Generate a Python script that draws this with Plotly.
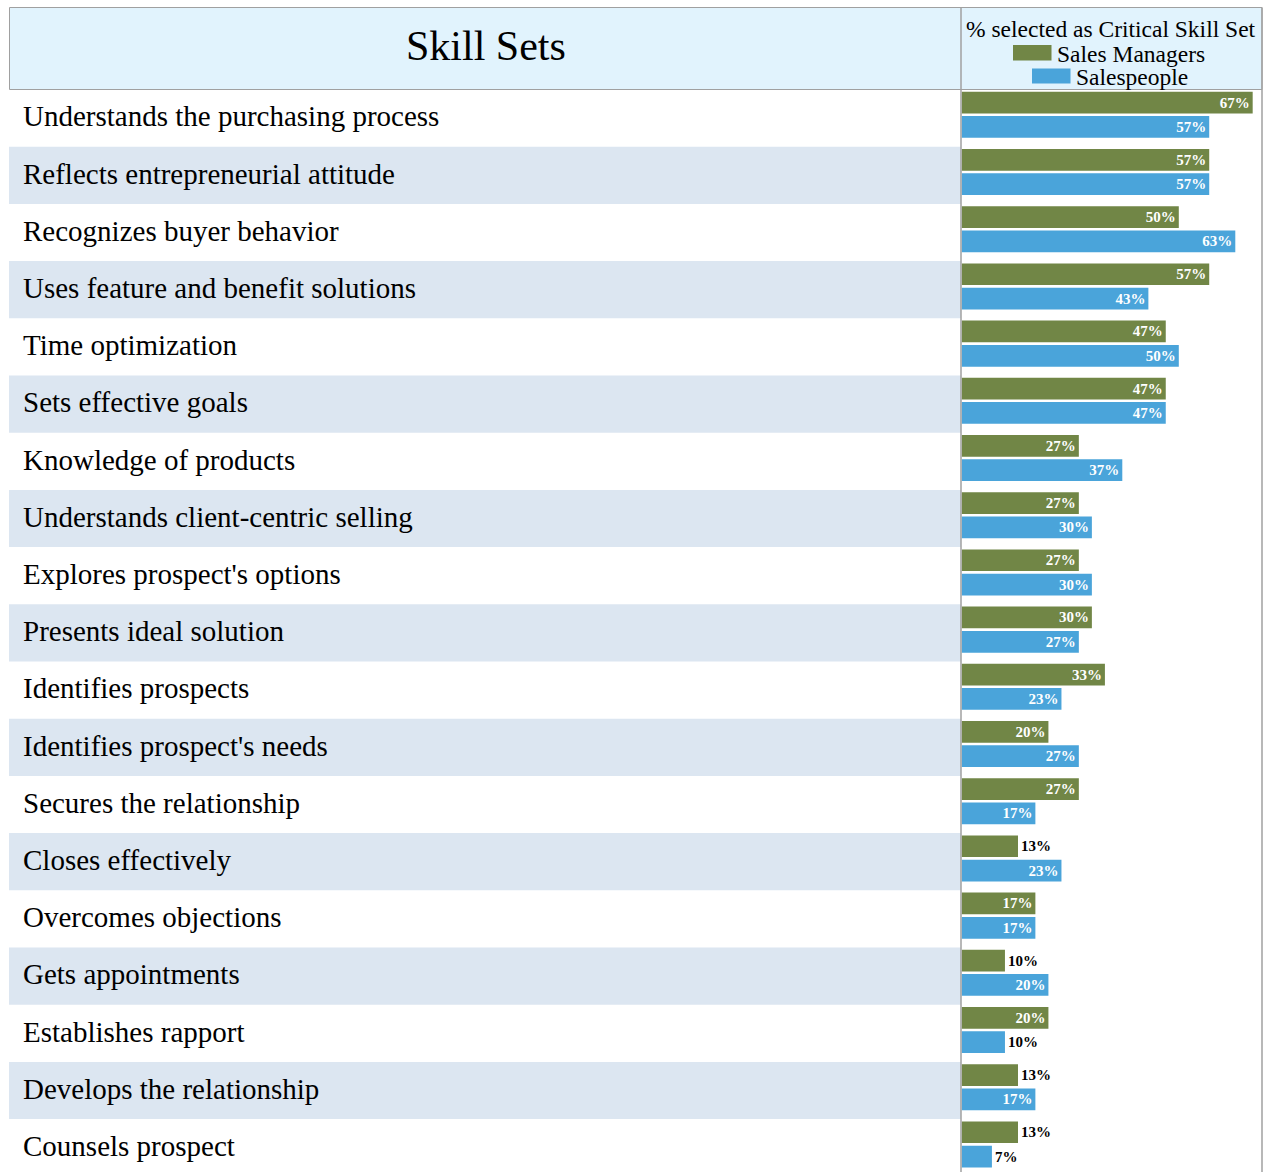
import plotly.graph_objects as go

skills = [
    "Understands the purchasing process",
    "Reflects entrepreneurial attitude",
    "Recognizes buyer behavior",
    "Uses feature and benefit solutions",
    "Time optimization",
    "Sets effective goals",
    "Knowledge of products",
    "Understands client-centric selling",
    "Explores prospect's options",
    "Presents ideal solution",
    "Identifies prospects",
    "Identifies prospect's needs",
    "Secures the relationship",
    "Closes effectively",
    "Overcomes objections",
    "Gets appointments",
    "Establishes rapport",
    "Develops the relationship",
    "Counsels prospect",
]
sales_managers = [67, 57, 50, 57, 47, 47, 27, 27, 27, 30, 33, 20, 27, 13, 17, 10, 20, 13, 13]
salespeople = [57, 57, 63, 43, 50, 47, 37, 30, 30, 27, 23, 27, 17, 23, 17, 20, 10, 17, 7]

W, H = 1270, 1172
FONT = "Liberation Serif, Times New Roman, serif"
ROW_TOP = 89.5      # pixel top of first row
ROW_H = 57.2        # pixel height of a row
PX_PER_PCT = 4.346
X0_PX, X1_PX = 961.5, 1262.0
DIV_PX = 961.0

GREEN = "#718646"
BLUE = "#4aa4da"
ROW_BLUE = "#dce6f1"
HEAD_BLUE = "#e1f3fd"
LINE = "#a0a0a0"

rows = list(range(len(skills)))


def pos(vals):
    return ["inside" if v >= 17 else "outside" for v in vals]


fig = go.Figure()
fig.add_trace(go.Bar(
    name="Sales Managers", y=rows, x=sales_managers, orientation="h",
    offset=0.04, width=0.38, marker=dict(color=GREEN, line=dict(width=0)),
    texttemplate="%{x}%", textposition=pos(sales_managers),
    insidetextanchor="end",
    insidetextfont=dict(family=FONT, size=15, color="white", weight="bold"),
    outsidetextfont=dict(family=FONT, size=15, color="black", weight="bold"),
    cliponaxis=False, constraintext="none",
))
fig.add_trace(go.Bar(
    name="Salespeople", y=rows, x=salespeople, orientation="h",
    offset=0.465, width=0.38, marker=dict(color=BLUE, line=dict(width=0)),
    texttemplate="%{x}%", textposition=pos(salespeople),
    insidetextanchor="end",
    insidetextfont=dict(family=FONT, size=15, color="white", weight="bold"),
    outsidetextfont=dict(family=FONT, size=15, color="black", weight="bold"),
    cliponaxis=False, constraintext="none",
))

x_range = [0, (X1_PX - X0_PX) / PX_PER_PCT]
y_top = (0 - ROW_TOP) / ROW_H
y_bot = (H - ROW_TOP) / ROW_H

shapes = []
# row backgrounds
for i in rows:
    if i % 2 == 1:
        shapes.append(dict(type="rect", xref="paper", yref="y", x0=9 / W, x1=DIV_PX / W,
                           y0=i, y1=i + 1, fillcolor=ROW_BLUE, line=dict(width=0), layer="below"))
# header box
hy0 = 1 - 89.5 / H
hy1 = 1 - 7.5 / H
shapes.append(dict(type="rect", xref="paper", yref="paper", x0=9.5 / W, x1=1262 / W,
                   y0=hy0, y1=hy1, fillcolor=HEAD_BLUE, line=dict(color=LINE, width=1), layer="below"))
# vertical dividers
for xp in (DIV_PX, 1262):
    shapes.append(dict(type="line", xref="paper", yref="paper", x0=xp / W, x1=xp / W,
                       y0=0, y1=hy1, line=dict(color=LINE, width=1.5), layer="above"))
# legend swatches
shapes.append(dict(type="rect", xref="paper", yref="paper", x0=1013 / W, x1=1051.5 / W,
                   y0=1 - 60.5 / H, y1=1 - 45 / H, fillcolor=GREEN, line=dict(width=0)))
shapes.append(dict(type="rect", xref="paper", yref="paper", x0=1032 / W, x1=1070.5 / W,
                   y0=1 - 83.5 / H, y1=1 - 68.5 / H, fillcolor=BLUE, line=dict(width=0)))

annotations = []
for i, s in enumerate(skills):
    annotations.append(dict(x=21 / W, xref="paper", y=i + 0.47, yref="y", text=s,
                            xanchor="left", yanchor="middle", showarrow=False,
                            font=dict(family=FONT, size=29, color="black")))
annotations.append(dict(x=485.5 / W, y=1 - 46 / H, xref="paper", yref="paper", text="Skill Sets",
                        xanchor="center", yanchor="middle", showarrow=False,
                        font=dict(family=FONT, size=42, color="black")))
annotations.append(dict(x=1110.5 / W, y=1 - 29 / H, xref="paper", yref="paper",
                        text="% selected as Critical Skill Set", xanchor="center", yanchor="middle",
                        showarrow=False, borderpad=0, font=dict(family=FONT, size=23.5, color="black")))
annotations.append(dict(x=1056 / W, y=1 - 54 / H, xref="paper", yref="paper",
                        text="Sales Managers", xanchor="left", yanchor="middle", borderpad=0,
                        showarrow=False, font=dict(family=FONT, size=23.5, color="black")))
annotations.append(dict(x=1075 / W, y=1 - 77 / H, xref="paper", yref="paper",
                        text="Salespeople", xanchor="left", yanchor="middle", borderpad=0,
                        showarrow=False, font=dict(family=FONT, size=23.5, color="black")))

fig.update_layout(
    width=W, height=H, margin=dict(l=0, r=0, t=0, b=0),
    paper_bgcolor="white", plot_bgcolor="rgba(0,0,0,0)",
    barmode="overlay", showlegend=False,
    xaxis=dict(domain=[X0_PX / W, X1_PX / W], range=x_range, visible=False, fixedrange=True),
    yaxis=dict(domain=[0, 1], range=[y_bot, y_top], visible=False, fixedrange=True),
    shapes=shapes, annotations=annotations,
    font=dict(family=FONT),
)

fig.write_html("out.html")
